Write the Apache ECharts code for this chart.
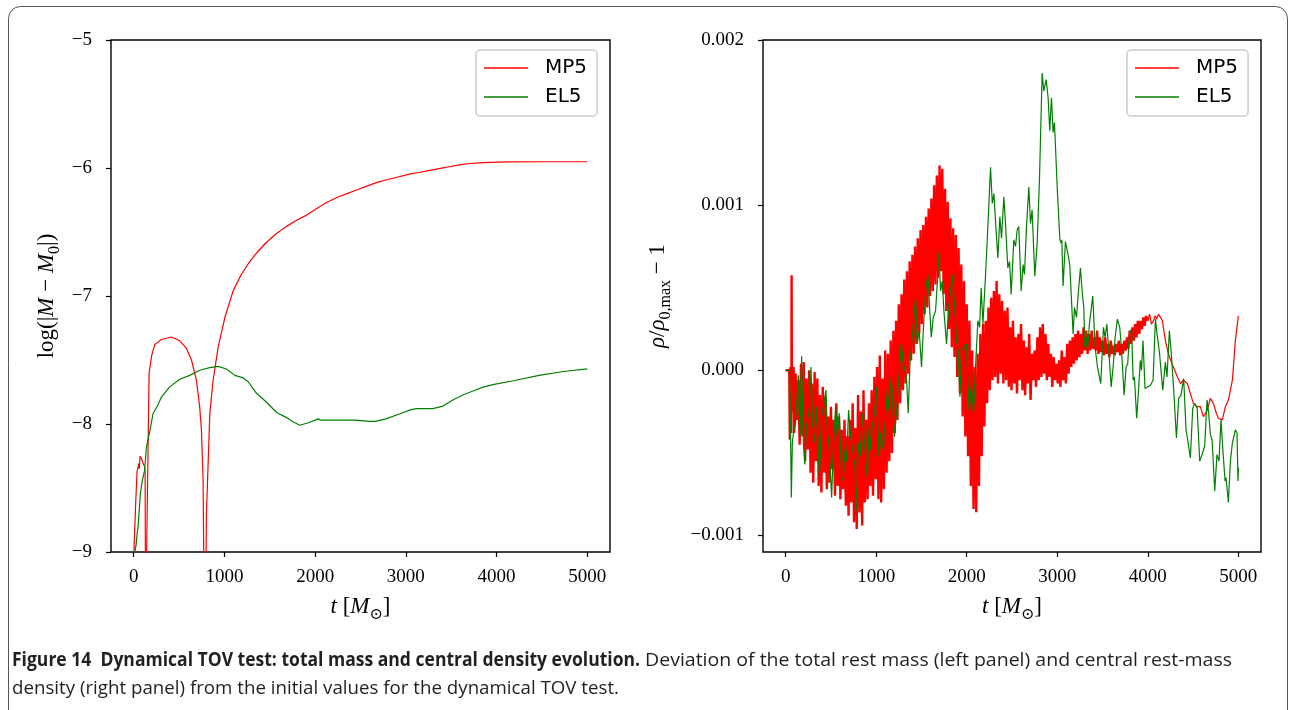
<!DOCTYPE html>
<html>
<head>
<meta charset="utf-8">
<script src="https://cdn.jsdelivr.net/npm/echarts@6/dist/echarts.min.js"></script>
<style>
html,body{margin:0;padding:0;background:#fff;}
#chart{width:1291px;height:710px;}
</style>
</head>
<body>
<div id="chart"></div>
<script>
// ---------- DATA ----------
const seriesNames = ['MP5', 'EL5'];
const xTicks = [0, 1000, 2000, 3000, 4000, 5000];
const yTicksRight = [-0.001, 0, 0.001, 0.002];

// Left panel: log(|M - M0|) vs t
const mp5Mass = [[0,-9.6],[3,-9.0],[22,-8.62],[37,-8.37],[48,-8.34],[55,-8.31],[62,-8.35],[70,-8.25],[85,-8.27],[100,-8.30],[118,-8.33],[126,-8.36],[131,-9.6],[138,-9.6],[170,-7.60],[200,-7.46],[232,-7.38],[306,-7.34],[416,-7.32],[508,-7.35],[582,-7.41],[637,-7.50],[692,-7.66],[728,-7.87],[747,-8.05],[765,-8.44],[784,-10],[796,-10],[802,-8.70],[839,-7.92],[875,-7.66],[931,-7.40],[1004,-7.17],[1096,-6.96],[1180,-6.84],[1270,-6.74],[1360,-6.66],[1450,-6.59],[1560,-6.52],[1676,-6.46],[1790,-6.41],[1901,-6.37],[2010,-6.32],[2126,-6.27],[2240,-6.23],[2351,-6.20],[2465,-6.17],[2577,-6.14],[2690,-6.11],[2802,-6.09],[2915,-6.07],[3027,-6.05],[3140,-6.035],[3252,-6.02],[3365,-6.005],[3477,-5.99],[3590,-5.975],[3703,-5.965],[3815,-5.96],[3928,-5.956],[4153,-5.952],[4500,-5.951],[5000,-5.951]];
const el5Mass = [[10,-9.2],[14,-9.0],[29,-8.93],[40,-8.84],[48,-8.81],[58,-8.80],[74,-8.54],[96,-8.44],[121,-8.36],[140,-8.18],[177,-8.06],[213,-7.92],[268,-7.85],[306,-7.79],[397,-7.71],[508,-7.65],[618,-7.62],[728,-7.58],[839,-7.56],[931,-7.55],[1023,-7.57],[1115,-7.62],[1207,-7.64],[1262,-7.67],[1354,-7.76],[1465,-7.83],[1575,-7.91],[1685,-7.95],[1750,-7.98],[1833,-8.01],[1923,-7.99],[2036,-7.96],[2059,-7.97],[2216,-7.97],[2441,-7.97],[2600,-7.98],[2667,-7.98],[2779,-7.96],[2937,-7.92],[3050,-7.89],[3117,-7.88],[3297,-7.88],[3410,-7.86],[3523,-7.81],[3640,-7.77],[3748,-7.74],[3860,-7.71],[3973,-7.69],[4198,-7.66],[4468,-7.62],[4739,-7.59],[5000,-7.57]];

// Right panel: rho/rho0,max - 1 (values in units of 1e-3)
// noisy part (t <= 4000)
const mp5RhoNoisy = [[0,0],[40,0],[46,-0.42],[52,0.02],[58,-0.05],[63,-0.38],[66,0.575],[69,-0.10],[75,0.02],[80,-0.25],
[88,0.02],[95,-0.38],[110,-0.02],[125,-0.30],[140,-0.06],[155,-0.45],[170,0.04],[185,-0.40],[200,0.05],[215,-0.55],
[230,-0.05],[245,-0.48],[260,0.00],[275,-0.62],[290,-0.08],[305,-0.68],[320,-0.01],[335,-0.55],[350,-0.05],[365,-0.70],
[380,-0.15],[395,-0.74],[410,-0.10],[425,-0.62],[440,-0.16],[455,-0.72],[470,-0.28],[485,-0.68],[500,-0.22],[515,-0.60],
[530,-0.30],[545,-0.76],[560,-0.20],[575,-0.70],[590,-0.28],[605,-0.78],[620,-0.36],[635,-0.72],[650,-0.30],[665,-0.82],
[680,-0.40],[695,-0.88],[710,-0.30],[725,-0.80],[740,-0.20],[755,-0.92],[770,-0.35],[785,-0.96],[800,-0.15],[815,-0.86],
[830,-0.25],[845,-0.94],[860,-0.12],[875,-0.80],[890,-0.30],[905,-0.78],[920,-0.20],[935,-0.70],[950,-0.12],[965,-0.76],
[980,-0.04],[995,-0.66],[1010,0.02],[1025,-0.78],[1040,0.09],[1055,-0.80],[1070,-0.05],[1085,-0.72],[1100,0.12],[1115,-0.62],
[1130,0.10],[1145,-0.55],[1160,0.18],[1175,-0.50],[1190,0.24],[1205,-0.38],[1220,0.30],[1235,-0.30],[1250,0.40],[1265,-0.20],
[1280,0.46],[1295,-0.12],[1310,0.55],[1325,-0.08],[1340,0.60],[1355,-0.02],[1370,0.66],[1385,0.06],[1400,0.70],[1415,0.10],
[1430,0.75],[1445,0.16],[1460,0.80],[1475,0.22],[1490,0.85],[1505,0.28],[1520,0.88],[1535,0.34],[1550,0.93],[1565,0.38],
[1580,0.98],[1595,0.45],[1610,1.04],[1625,0.48],[1640,1.12],[1655,0.52],[1670,1.18],[1685,0.56],[1700,1.24],[1715,0.60],
[1730,1.22],[1745,0.46],[1760,1.10],[1775,0.36],[1790,1.02],[1805,0.25],[1820,0.92],[1835,0.14],[1850,0.86],[1865,0.08],
[1880,0.82],[1895,-0.04],[1910,0.74],[1925,-0.14],[1940,0.64],[1955,-0.28],[1970,0.54],[1985,-0.40],[2000,0.40],[2015,-0.52],
[2030,0.30],[2045,-0.70],[2060,0.12],[2075,-0.84],[2090,0.02],[2105,-0.86],[2120,0.10],[2135,-0.70],[2150,0.22],[2165,-0.52],
[2180,0.28],[2195,-0.34],[2210,0.30],[2225,-0.20],[2240,0.38],[2255,-0.12],[2270,0.44],[2285,-0.06],[2300,0.48],[2315,-0.04],
[2330,0.54],[2345,-0.08],[2360,0.46],[2375,-0.02],[2390,0.42],[2405,-0.08],[2420,0.36],[2435,-0.06],[2450,0.38],[2465,-0.10],
[2480,0.26],[2495,-0.12],[2510,0.30],[2525,-0.08],[2540,0.20],[2555,-0.14],[2570,0.22],[2585,-0.06],[2600,0.28],[2615,-0.12],
[2630,0.18],[2645,-0.15],[2660,0.14],[2675,-0.08],[2690,0.22],[2705,-0.18],[2720,0.10],[2735,-0.06],[2750,0.12],[2765,-0.10],
[2780,0.20],[2795,-0.06],[2810,0.26],[2825,-0.04],[2840,0.28],[2855,-0.02],[2870,0.22],[2885,-0.06],[2900,0.16],[2915,-0.04],
[2930,0.10],[2945,-0.10],[2960,0.08],[2975,-0.06],[2990,0.04],[3005,-0.08],[3020,0.06],[3035,-0.10],[3050,0.12],[3065,-0.06],
[3080,0.08],[3095,-0.08],[3110,0.16],[3125,-0.02],[3140,0.18],[3155,0.02],[3170,0.20],[3185,0.04],[3200,0.22],[3215,0.06],
[3230,0.24],[3245,0.08],[3260,0.22],[3275,0.10],[3290,0.26],[3305,0.12],[3320,0.24],[3335,0.10],[3350,0.22],[3365,0.12],
[3380,0.24],[3395,0.13],[3410,0.20],[3425,0.12],[3440,0.24],[3455,0.10],[3470,0.20],[3485,0.11],[3500,0.18],[3515,0.09],
[3530,0.20],[3545,0.10],[3560,0.16],[3575,0.08],[3590,0.18],[3605,0.10],[3620,0.15],[3635,0.09],[3650,0.16],[3665,0.11],
[3680,0.18],[3695,0.09],[3710,0.16],[3725,0.10],[3740,0.18],[3755,0.12],[3770,0.20],[3785,0.13],[3800,0.24],[3815,0.16],
[3830,0.26],[3845,0.18],[3860,0.28],[3875,0.20],[3890,0.30],[3905,0.22],[3920,0.30],[3935,0.25],[3950,0.32],[3965,0.27],
[3980,0.33],[4000,0.30]];
// smoother tail (t >= 4000)
const mp5RhoTail = [[4000,0.30],[4020,0.34],[4040,0.28],[4062,0.30],[4080,0.33],[4100,0.31],[4117,0.34],[4140,0.32],[4161,0.30],
[4194,0.18],[4227,0.10],[4260,0.05],[4283,0.02],[4327,-0.04],[4360,-0.08],[4393,-0.06],[4437,-0.08],[4470,-0.14],[4503,-0.20],
[4547,-0.22],[4580,-0.22],[4614,-0.28],[4658,-0.24],[4691,-0.17],[4724,-0.20],[4757,-0.26],[4779,-0.29],[4823,-0.30],[4857,-0.22],
[4890,-0.18],[4934,-0.06],[4967,0.18],[5000,0.33]];
const el5Rho = [[0,0],[45,0],[55,0.0],[63,-0.77],[74,-0.44],[90,-0.36],[107,-0.33],[125,-0.18],[140,-0.03],[160,-0.40],
[177,0.085],[195,-0.44],[213,-0.57],[232,-0.33],[261,-0.24],[280,0.02],[298,-0.33],[324,-0.44],[342,-0.22],[372,-0.65],
[397,-0.28],[423,-0.20],[445,-0.12],[460,-0.36],[482,-0.48],[508,-0.77],[526,-0.48],[552,-0.21],[570,-0.40],[592,-0.26],
[618,-0.65],[636,-0.67],[655,-0.48],[673,-0.55],[695,-0.24],[717,-0.40],[740,-0.48],[765,-0.58],[783,-0.85],[802,-0.44],
[820,-0.52],[850,-0.26],[876,-0.48],[901,-0.65],[923,-0.33],[938,-0.48],[956,-0.34],[982,-0.26],[1004,-0.10],[1030,-0.52],
[1049,-0.38],[1078,-0.48],[1104,-0.28],[1122,-0.12],[1140,-0.24],[1166,-0.04],[1188,-0.28],[1203,-0.40],[1232,-0.20],[1262,0.04],
[1276,0.16],[1295,0.06],[1317,0.0],[1336,-0.06],[1354,-0.26],[1373,0.04],[1387,0.12],[1409,0.28],[1435,0.44],[1453,0.16],
[1475,0.24],[1501,0.02],[1520,0.24],[1545,0.48],[1571,0.58],[1590,0.38],[1608,0.20],[1630,0.32],[1656,0.36],[1674,0.52],
[1693,0.71],[1711,0.48],[1730,0.54],[1748,0.36],[1777,0.16],[1803,0.40],[1821,0.48],[1840,0.58],[1866,0.40],[1888,0.18],
[1906,0.12],[1925,-0.16],[1943,0.12],[1969,0.14],[1998,0.16],[2024,-0.24],[2050,-0.10],[2075,-0.26],[2097,0.02],[2123,0.30],
[2142,0.26],[2160,0.50],[2179,0.28],[2208,0.58],[2237,0.91],[2263,1.23],[2282,1.01],[2300,1.07],[2326,0.83],[2344,0.68],
[2366,0.93],[2384,0.80],[2410,1.05],[2428,0.89],[2454,0.62],[2473,0.66],[2491,0.46],[2520,0.79],[2539,0.75],[2557,0.85],
[2575,0.87],[2601,0.48],[2623,0.64],[2638,0.58],[2660,0.87],[2686,1.11],[2704,0.89],[2722,0.97],[2752,0.57],[2778,0.77],
[2803,1.15],[2833,1.80],[2851,1.69],[2877,1.76],[2899,1.65],[2917,1.45],[2936,1.65],[2954,1.44],[2969,1.50],[2999,1.11],
[3029,0.79],[3043,0.77],[3050,0.79],[3064,0.51],[3090,0.78],[3116,0.71],[3138,0.64],[3153,0.63],[3175,0.22],[3190,0.38],
[3212,0.32],[3237,0.50],[3256,0.62],[3274,0.48],[3293,0.38],[3304,0.14],[3318,0.20],[3333,0.12],[3355,0.28],[3370,0.28],
[3392,0.45],[3418,0.14],[3444,0.02],[3480,-0.08],[3510,0.26],[3528,0.20],[3547,0.28],[3569,0.12],[3595,-0.10],[3620,0.04],
[3639,0.20],[3664,0.31],[3690,0.26],[3708,0.14],[3738,-0.15],[3760,0.02],[3778,0.04],[3797,0.22],[3820,0.25],[3838,-0.06],
[3852,-0.04],[3877,-0.29],[3900,-0.10],[3917,0.06],[3930,0.0],[3947,0.18],[3969,-0.11],[3999,-0.10],[4029,-0.09],[4058,-0.06],
[4084,0.31],[4102,0.22],[4128,0.11],[4165,-0.12],[4194,0.05],[4212,-0.04],[4238,0.24],[4257,0.12],[4286,-0.12],[4316,-0.41],
[4341,-0.17],[4367,-0.15],[4396,-0.05],[4422,-0.36],[4440,-0.42],[4470,-0.53],[4496,-0.23],[4518,-0.20],[4545,-0.23],[4573,-0.55],
[4599,-0.51],[4628,-0.46],[4654,-0.18],[4672,-0.26],[4691,-0.39],[4710,-0.42],[4739,-0.73],[4764,-0.51],[4786,-0.55],[4808,-0.30],
[4830,-0.49],[4853,-0.67],[4864,-0.65],[4890,-0.80],[4912,-0.55],[4934,-0.44],[4950,-0.44],[4967,-0.36],[4985,-0.38],[4996,-0.67],[5002,-0.59]];
const rhoUnit = 1e-3;

const captionBold = 'Figure 14  Dynamical TOV test: total mass and central density evolution.';
const captionRest1 = ' Deviation of the total rest mass (left panel) and central rest-mass';
const captionLine2 = 'density (right panel) from the initial values for the dynamical TOV test.';

// ---------- STYLE / LAYOUT ----------
const RED = '#ff0000', GREEN = '#008000';
const serif = "'Liberation Serif','DejaVu Serif',serif";
const sans = "'DejaVu Sans',sans-serif";
const capFamily = "'Open Sans','Liberation Sans',sans-serif";
const capSize = 19;
const capColor = '#231f20';

function measure(font, text) {
  const c = document.createElement('canvas').getContext('2d');
  c.font = font; return c.measureText(text).width;
}
const boldFont = 'bold ' + capSize + 'px ' + capFamily;
const regFont = capSize + 'px ' + capFamily;
const capLeft = 12;
const boldTarget = 628, rest1Target = 592, line2Target = 607;
const sxBold = boldTarget / measure(boldFont, captionBold);
const sxRest1 = rest1Target / measure(regFont, captionRest1);
const sxLine2 = line2Target / measure(regFont, captionLine2);

const minus = s => String(s).replace('-', '\u2212');
const fmtLeft = v => minus(v);
const fmtRight = v => (v < 0 ? '\u2212' : '') + Math.abs(v).toFixed(3);
const fmtX = v => String(Math.round(v));

const richAxis = {
  n: {fontFamily: serif, fontSize: 23, color: '#000'},
  i: {fontFamily: serif, fontSize: 23, fontStyle: 'italic', color: '#000'},
  s: {fontFamily: serif, fontSize: 16, color: '#000', verticalAlign: 'bottom', padding: [0, 0, -5, 0]}
};

function xAxisCfg(gi) {
  return {
    type: 'value', gridIndex: gi, min: -250, max: 5250,
    axisLine: {show: false, onZero: false},
    axisTick: {show: true, length: 5, lineStyle: {color: '#000', width: 1.2}, customValues: xTicks},
    axisLabel: {color: '#000', fontFamily: serif, fontSize: 19, margin: 16, customValues: xTicks, formatter: fmtX},
    splitLine: {show: false},
    name: '{i|t}{n| [}{i|M}{s|\u2299}{n|]}', nameLocation: 'middle', nameGap: 43,
    nameTextStyle: {rich: richAxis}
  };
}

function capText(text, x, y, font, sx) {
  return {type: 'text', x: x, y: y, scaleX: sx, silent: true,
    style: {text: text, x: 0, y: 0, font: font, fill: capColor, verticalAlign: 'middle', align: 'left'}};
}

const option = {
  animation: false,
  backgroundColor: '#fff',
  graphic: [
    {type: 'rect', shape: {x: 8.5, y: 6.5, width: 1279, height: 740, r: 12},
     style: {fill: 'none', stroke: '#555', lineWidth: 1}, silent: true, z: -10},
    capText(captionBold, capLeft, 661, boldFont, sxBold),
    capText(captionRest1, capLeft + boldTarget, 661, regFont, sxRest1),
    capText(captionLine2, capLeft, 689, regFont, sxLine2)
  ],
  grid: [
    {left: 111, top: 40, width: 499, height: 512, show: true, borderColor: '#000', borderWidth: 1.4, backgroundColor: 'transparent'},
    {left: 763, top: 40, width: 498, height: 512, show: true, borderColor: '#000', borderWidth: 1.4, backgroundColor: 'transparent'}
  ],
  xAxis: [xAxisCfg(0), xAxisCfg(1)],
  yAxis: [
    {
      type: 'value', gridIndex: 0, min: -9, max: -5, interval: 1,
      axisLine: {show: false, onZero: false},
      axisTick: {show: true, length: 5, lineStyle: {color: '#000', width: 1.2}},
      axisLabel: {color: '#000', fontFamily: serif, fontSize: 19, margin: 19, formatter: fmtLeft},
      splitLine: {show: false},
      name: '{n|log(|}{i|M}{n| \u2212 }{i|M}{s|0}{n||)}', nameLocation: 'middle', nameGap: 53, nameRotate: 90,
      nameTextStyle: {rich: richAxis}
    },
    {
      type: 'value', gridIndex: 1, min: -0.0011, max: 0.002,
      axisLine: {show: false, onZero: false},
      axisTick: {show: true, length: 5, lineStyle: {color: '#000', width: 1.2}, customValues: yTicksRight},
      axisLabel: {color: '#000', fontFamily: serif, fontSize: 19, margin: 19, formatter: fmtRight, customValues: yTicksRight},
      splitLine: {show: false},
      name: '{i|\u03C1}{n|/}{i|\u03C1}{s|0,max}{n| \u2212 1}', nameLocation: 'middle', nameGap: 94, nameRotate: 90,
      nameTextStyle: {rich: richAxis}
    }
  ],
  legend: [0, 1].map(k => ({
    left: k === 0 ? 476 : 1127, top: 50, orient: 'vertical', selectedMode: false,
    data: seriesNames, icon: 'rect', itemWidth: 44, itemHeight: 1.5, itemGap: 9,
    textStyle: {fontFamily: sans, fontSize: 20, color: '#000', lineHeight: 20, padding: [0, 0, 0, 12]},
    backgroundColor: '#fff', borderColor: '#cccccc', borderWidth: 1.5, borderRadius: 4,
    padding: [8, 10, 9, 8]
  })),
  series: [
    {name: seriesNames[0], type: 'line', xAxisIndex: 0, yAxisIndex: 0, data: mp5Mass, color: RED, showSymbol: false, symbol: 'none', lineStyle: {width: 1.2}, clip: true},
    {name: seriesNames[1], type: 'line', xAxisIndex: 0, yAxisIndex: 0, data: el5Mass, color: GREEN, showSymbol: false, symbol: 'none', lineStyle: {width: 1.2}, clip: true},
    {name: seriesNames[0], type: 'line', xAxisIndex: 1, yAxisIndex: 1, data: mp5RhoNoisy.map(p => [p[0], p[1] * rhoUnit]), color: RED, showSymbol: false, symbol: 'none', lineStyle: {width: 2.4}, clip: true},
    {name: seriesNames[0], type: 'line', xAxisIndex: 1, yAxisIndex: 1, data: mp5RhoTail.map(p => [p[0], p[1] * rhoUnit]), color: RED, showSymbol: false, symbol: 'none', lineStyle: {width: 1.2}, clip: true},
    {name: seriesNames[1], type: 'line', xAxisIndex: 1, yAxisIndex: 1, data: el5Rho.map(p => [p[0], p[1] * rhoUnit]), color: GREEN, showSymbol: false, symbol: 'none', lineStyle: {width: 1.2}, clip: true}
  ]
};

const chart = echarts.init(document.getElementById('chart'), null, {renderer: 'canvas'});
chart.setOption(option);
</script>
</body>
</html>
